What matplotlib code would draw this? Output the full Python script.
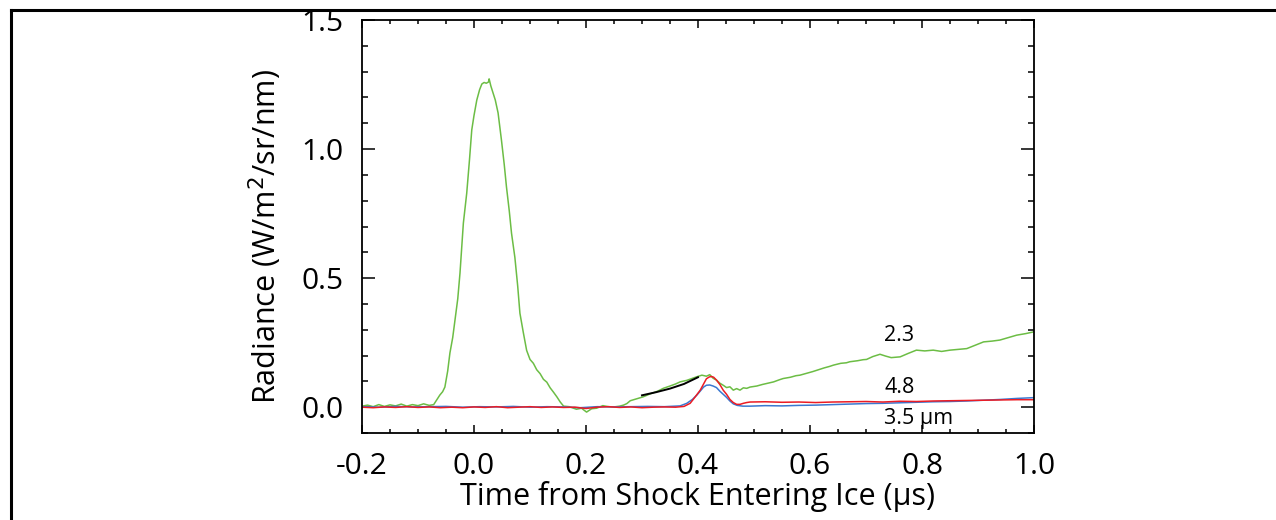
import matplotlib
matplotlib.use("Agg")
import matplotlib.pyplot as plt
from matplotlib.lines import Line2D
from matplotlib.ticker import MultipleLocator, FormatStrFormatter

plt.rcParams['font.family'] = ['Open Sans', 'DejaVu Sans']

# ---- data ----
green_t = [-0.200, -0.190, -0.180, -0.170, -0.160, -0.150, -0.140, -0.130, -0.120, -0.110,
           -0.100, -0.090, -0.080, -0.072, -0.066, -0.061, -0.056, -0.052, -0.047, -0.043,
           -0.038, -0.034, -0.029, -0.025, -0.019, -0.013, -0.008, -0.004, 0.000, 0.005,
           0.010, 0.014, 0.018, 0.022, 0.026, 0.027, 0.030, 0.034, 0.038, 0.043,
           0.049, 0.054, 0.058, 0.063, 0.067, 0.073, 0.078, 0.082, 0.088, 0.094,
           0.100, 0.106, 0.112, 0.118, 0.124, 0.130, 0.136, 0.142, 0.148, 0.154,
           0.160, 0.170, 0.183, 0.192, 0.201, 0.210, 0.219, 0.230, 0.240, 0.250,
           0.260, 0.267, 0.273, 0.279, 0.290, 0.302, 0.315, 0.328, 0.338, 0.350,
           0.360, 0.368, 0.380, 0.390, 0.398, 0.407, 0.415, 0.421, 0.427, 0.433,
           0.439, 0.445, 0.451, 0.457, 0.463, 0.469, 0.475, 0.481, 0.487, 0.493,
           0.505, 0.515, 0.523, 0.535, 0.545, 0.552, 0.565, 0.575, 0.582, 0.595,
           0.605, 0.612, 0.625, 0.635, 0.642, 0.655, 0.665, 0.671, 0.685, 0.695,
           0.701, 0.712, 0.725, 0.735, 0.745, 0.761, 0.775, 0.790, 0.805, 0.820,
           0.835, 0.850, 0.865, 0.880, 0.895, 0.910, 0.925, 0.939, 0.955, 0.969,
           0.985, 1.000]
green_v = [0.004, 0.008, 0.002, 0.010, 0.003, 0.009, 0.005, 0.012, 0.004, 0.010,
           0.006, 0.013, 0.007, 0.010, 0.030, 0.047, 0.060, 0.078, 0.140, 0.210,
           0.270, 0.337, 0.420, 0.520, 0.713, 0.829, 0.960, 1.074, 1.130, 1.190,
           1.230, 1.252, 1.258, 1.255, 1.260, 1.272, 1.245, 1.217, 1.190, 1.140,
           1.035, 0.940, 0.853, 0.760, 0.674, 0.580, 0.470, 0.364, 0.290, 0.220,
           0.185, 0.170, 0.145, 0.130, 0.108, 0.097, 0.075, 0.058, 0.040, 0.020,
           0.004, 0.002, -0.008, -0.004, -0.019, -0.006, -0.004, 0.006, 0.002, 0.001,
           0.004, 0.008, 0.014, 0.025, 0.032, 0.040, 0.052, 0.062, 0.073, 0.082,
           0.090, 0.098, 0.104, 0.112, 0.118, 0.124, 0.120, 0.126, 0.112, 0.105,
           0.093, 0.085, 0.076, 0.079, 0.066, 0.072, 0.066, 0.075, 0.073, 0.078,
           0.082, 0.088, 0.092, 0.098, 0.106, 0.111, 0.116, 0.122, 0.124, 0.132,
           0.138, 0.143, 0.152, 0.158, 0.163, 0.170, 0.172, 0.176, 0.180, 0.184,
           0.185, 0.196, 0.205, 0.198, 0.192, 0.195, 0.208, 0.221, 0.218, 0.221,
           0.216, 0.221, 0.224, 0.227, 0.240, 0.253, 0.256, 0.260, 0.270, 0.279,
           0.285, 0.292]

red_t = [-0.20, -0.18, -0.16, -0.14, -0.12, -0.10, -0.08, -0.06, -0.04, -0.02,
         0.00, 0.02, 0.04, 0.06, 0.08, 0.10, 0.12, 0.14, 0.16, 0.18,
         0.20, 0.22, 0.24, 0.26, 0.28, 0.30, 0.32, 0.34, 0.36, 0.375,
         0.386, 0.395, 0.404, 0.410, 0.415, 0.420, 0.424, 0.428, 0.433, 0.439,
         0.445, 0.451, 0.457, 0.463, 0.469, 0.475, 0.481, 0.487, 0.493, 0.52,
         0.55, 0.58, 0.61, 0.64, 0.67, 0.70, 0.73, 0.76, 0.79, 0.82,
         0.85, 0.88, 0.91, 0.94, 0.97, 1.00]
red_v = [0.000, -0.002, 0.001, -0.001, 0.002, -0.001, 0.001, -0.002, 0.000, -0.002,
         0.001, -0.001, 0.002, -0.002, 0.000, 0.002, -0.001, 0.001, -0.001, 0.000,
         -0.005, 0.000, 0.002, -0.001, 0.001, -0.002, 0.000, 0.001, 0.000, 0.003,
         0.015, 0.040, 0.066, 0.090, 0.110, 0.117, 0.119, 0.116, 0.105, 0.088,
         0.066, 0.050, 0.030, 0.018, 0.011, 0.011, 0.015, 0.018, 0.020, 0.021,
         0.019, 0.020, 0.018, 0.020, 0.021, 0.022, 0.020, 0.023, 0.022, 0.024,
         0.025, 0.026, 0.027, 0.028, 0.029, 0.029]

blue_t = [-0.20, -0.17, -0.14, -0.11, -0.08, -0.05, -0.02, 0.01, 0.04, 0.07,
          0.10, 0.13, 0.16, 0.19, 0.22, 0.25, 0.28, 0.31, 0.34, 0.368,
          0.380, 0.390, 0.398, 0.405, 0.410, 0.415, 0.421, 0.427, 0.433, 0.439,
          0.445, 0.451, 0.457, 0.463, 0.470, 0.480, 0.493, 0.52, 0.55, 0.58,
          0.61, 0.64, 0.67, 0.70, 0.73, 0.76, 0.79, 0.82, 0.85, 0.88,
          0.91, 0.94, 0.97, 1.00]
blue_v = [0.002, 0.000, 0.003, 0.001, 0.002, 0.003, 0.000, 0.002, 0.001, 0.003,
          0.000, 0.002, 0.001, -0.002, 0.002, 0.001, 0.002, 0.003, 0.002, 0.005,
          0.015, 0.030, 0.047, 0.065, 0.078, 0.085, 0.086, 0.082, 0.076, 0.062,
          0.050, 0.038, 0.024, 0.013, 0.007, 0.004, 0.004, 0.006, 0.005, 0.007,
          0.008, 0.010, 0.012, 0.014, 0.015, 0.017, 0.019, 0.021, 0.022, 0.024,
          0.027, 0.030, 0.034, 0.037]

fit_t = [0.30, 0.325, 0.35, 0.375, 0.40]
fit_v = [0.046, 0.058, 0.072, 0.090, 0.116]

labels_text = ["2.3", "4.8", "3.5 \u00b5m"]
labels_x = [0.733, 0.733, 0.733]
labels_y = [0.278, 0.078, -0.043]

assert len(green_t) == len(green_v)
assert len(red_t) == len(red_v)
assert len(blue_t) == len(blue_v)

W, H = 1276, 520
fig = plt.figure(figsize=(W / 100, H / 100), dpi=100)
ax = fig.add_axes([362 / W, 1 - 433 / H, (1034 - 362) / W, (433 - 20) / H])

ax.plot(green_t, green_v, color='#6cbd45', lw=1.1)
ax.plot(blue_t, blue_v, color='#3b78d0', lw=1.1)
ax.plot(red_t, red_v, color='#ec1c24', lw=1.1)
ax.plot(fit_t, fit_v, color='black', lw=1.4)

for s, x, y in zip(labels_text, labels_x, labels_y):
    ax.text(x, y, s, fontsize=15.5, ha='left', va='center', color='black')

ax.set_xlim(-0.2, 1.0)
ax.set_ylim(-0.1, 1.5)
ax.xaxis.set_major_locator(MultipleLocator(0.2))
ax.xaxis.set_minor_locator(MultipleLocator(0.05))
ax.yaxis.set_major_locator(MultipleLocator(0.5))
ax.yaxis.set_minor_locator(MultipleLocator(0.1))
ax.xaxis.set_major_formatter(FormatStrFormatter('%.1f'))
ax.yaxis.set_major_formatter(FormatStrFormatter('%.1f'))

ax.tick_params(axis='both', which='both', direction='in', top=True, right=True,
               width=1.1, labelsize=21.5)
ax.tick_params(axis='x', which='major', length=5.8, pad=13.5)
ax.tick_params(axis='x', which='minor', length=2.9)
ax.tick_params(axis='y', which='major', length=9.4, pad=13)
ax.tick_params(axis='y', which='minor', length=4.3)
for sp in ax.spines.values():
    sp.set_linewidth(1.3)

ax.set_xlabel('Time from Shock Entering Ice (\u00b5s)', fontsize=22, labelpad=0.5)
ax.set_ylabel('Radiance (W/m$^2$/sr/nm)', fontsize=22)
ax.yaxis.set_label_coords((284 - 362) / (1034 - 362), (433 - 237) / (433 - 20))

# outer frame (top and left edges visible)
fig.add_artist(Line2D([10.5 / W, 1.0], [1 - 9.5 / H, 1 - 9.5 / H], color='black', lw=2.2,
                      transform=fig.transFigure))
fig.add_artist(Line2D([10.5 / W, 10.5 / W], [0.0, 1 - 9.5 / H], color='black', lw=2.2,
                      transform=fig.transFigure))

fig.savefig('out.png', dpi=100)
